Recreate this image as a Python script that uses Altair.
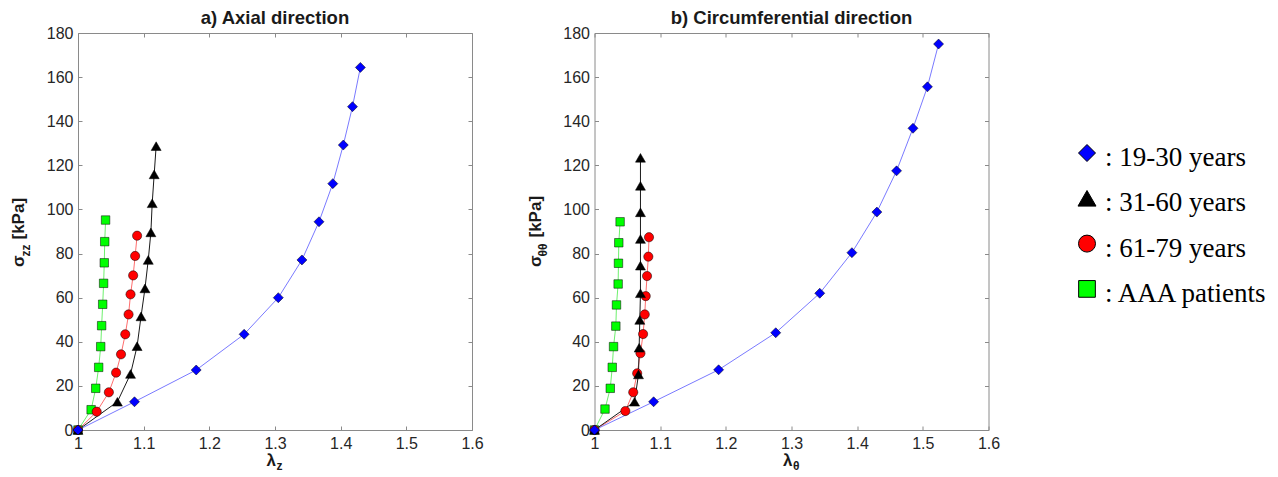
import altair as alt
import pandas as pd

# ---------------- data ----------------
series_names = ["19-30 years", "31-60 years", "61-79 years", "AAA patients"]
legend_labels = [": 19-30 years", ": 31-60 years", ": 61-79 years", ": AAA patients"]
draw_order = ["AAA patients", "61-79 years", "31-60 years", "19-30 years"]

x_ticks = [1.0, 1.1, 1.2, 1.3, 1.4, 1.5, 1.6]
y_ticks = [0, 20, 40, 60, 80, 100, 120, 140, 160, 180]

# a) Axial direction
young_z_lam = [1.0, 1.086, 1.180, 1.253, 1.305, 1.341, 1.367, 1.388, 1.404, 1.418, 1.430]
young_z_sig = [0, 12.8, 27.2, 43.4, 60.0, 77.1, 94.4, 111.7, 129.2, 146.6, 164.4]
middle_z_lam = [1.0, 1.060, 1.080, 1.090, 1.096, 1.102, 1.107, 1.111, 1.113, 1.116, 1.119]
middle_z_sig = [0, 12.8, 25.4, 38.0, 51.5, 64.2, 77.1, 89.6, 102.8, 115.9, 128.7]
old_z_lam = [1.0, 1.0285, 1.047, 1.058, 1.0655, 1.072, 1.077, 1.080, 1.084, 1.087, 1.090]
old_z_sig = [0, 8.3, 17.1, 26.0, 34.3, 43.4, 52.4, 61.5, 70.1, 78.9, 88.1]
aaa_z_lam = [1.0, 1.020, 1.027, 1.0315, 1.0346, 1.036, 1.0376, 1.039, 1.040, 1.0407, 1.042]
aaa_z_sig = [0, 9.2, 18.9, 28.4, 37.8, 47.3, 57.0, 66.5, 75.8, 85.4, 95.2]

# b) Circumferential direction
young_t_lam = [1.0, 1.090, 1.189, 1.276, 1.343, 1.392, 1.430, 1.460, 1.485, 1.507, 1.524]
young_t_sig = [0, 12.8, 27.3, 44.1, 62.0, 80.4, 98.8, 117.5, 136.8, 155.6, 175.0]
middle_t_lam = [1.0, 1.061, 1.067, 1.068, 1.069, 1.070, 1.070, 1.070, 1.070, 1.070, 1.070]
middle_t_sig = [0, 12.8, 25.2, 37.3, 49.9, 62.0, 74.5, 86.6, 98.7, 110.7, 123.4]
old_t_lam = [1.0, 1.047, 1.059, 1.065, 1.070, 1.074, 1.0765, 1.078, 1.080, 1.082, 1.083]
old_t_sig = [0, 8.6, 17.1, 25.7, 34.8, 43.5, 52.4, 60.7, 69.8, 78.6, 87.4]
aaa_t_lam = [1.0, 1.016, 1.024, 1.027, 1.029, 1.0325, 1.0335, 1.036, 1.0365, 1.037, 1.039]
aaa_t_sig = [0, 9.5, 18.9, 28.4, 37.8, 47.1, 56.7, 66.2, 75.6, 84.9, 94.4]

# ---------------- styles ----------------
SANS = "Liberation Sans"
SERIF = "Liberation Serif"
marker_shapes = {"19-30 years": "diamond", "31-60 years": "triangle-up",
                 "61-79 years": "circle", "AAA patients": "square"}
marker_fills = {"19-30 years": "#0000ff", "31-60 years": "#000000",
                "61-79 years": "#ff0000", "AAA patients": "#00ff00"}
marker_sizes = {"19-30 years": 100, "31-60 years": 100,
                "61-79 years": 85, "AAA patients": 72}
legend_sizes = {"19-30 years": 289, "31-60 years": 324,
                "61-79 years": 289, "AAA patients": 279}
line_colors = ["#7a7aff", "#1a1a1a", "#ff6e6e", "#6ef06e"]

W, H = 394, 397
GRAY = "#8a8a8a"
LABEL = "#262626"


def long_df(lams, sigs):
    rows = []
    lookup = dict(zip(series_names, zip(lams, sigs)))
    for name in draw_order:
        lam, sig = lookup[name]
        for i, (l, s) in enumerate(zip(lam, sig)):
            rows.append({"series": name, "idx": i, "lam": l, "sig": s})
    return pd.DataFrame(rows)


ONE = pd.DataFrame({"a": [0]})


def txt(text, x, y, size, angle=0, align="left", bold=True, font=SANS):
    return alt.Chart(ONE).mark_text(
        text=text, font=font, fontSize=size, fontWeight="bold" if bold else "normal",
        angle=angle, align=align, baseline="alphabetic", color="#1a1a1a",
    ).encode(x=alt.value(x), y=alt.value(y))


def panel(df, title, ysub, xsub, sub_len):
    xs = alt.Scale(domain=[1.0, 1.6], nice=False, zero=False)
    ys = alt.Scale(domain=[0, 180], nice=False, zero=False)
    lab_axis_x = alt.Axis(orient="bottom", values=x_ticks, format="~g", ticks=False,
                          domain=False, grid=False, title=None, labelFont=SANS,
                          labelFontSize=16, labelColor=LABEL, labelPadding=5,
                          labelFlush=False, labelOverlap=False)
    lab_axis_y = alt.Axis(orient="left", values=y_ticks, ticks=False, domain=False,
                          grid=False, title=None, labelFont=SANS, labelFontSize=16,
                          labelColor=LABEL, labelPadding=5, labelFlush=False,
                          labelOverlap=False)

    def tick_axis(orient, off, vals):
        return alt.Axis(orient=orient, offset=off, values=vals, labels=False,
                        domain=False, grid=False, ticks=True, tickSize=4,
                        tickColor=GRAY, title=None)

    base = alt.Chart(df)
    lines = base.mark_line(strokeWidth=1).encode(
        x=alt.X("lam:Q", scale=xs, axis=lab_axis_x),
        y=alt.Y("sig:Q", scale=ys, axis=lab_axis_y),
        stroke=alt.Stroke("series:N", scale=alt.Scale(domain=series_names, range=line_colors),
                          legend=None),
        order="idx:Q",
    )
    layers = [lines]
    for k, name in enumerate(draw_order):
        if k == 0:
            ax_x = tick_axis("top", -H, x_ticks)
            ax_y = tick_axis("right", -W, y_ticks)
        elif k == 1:
            ax_x = tick_axis("bottom", -H, x_ticks)
            ax_y = tick_axis("left", -W, y_ticks)
        else:
            ax_x = None
            ax_y = None
        pts = base.transform_filter(alt.datum.series == name).mark_point(
            shape=marker_shapes[name], size=marker_sizes[name], filled=True,
            fill=marker_fills[name], stroke="#000000", strokeWidth=0.5, opacity=1,
        ).encode(
            x=alt.X("lam:Q", scale=xs, axis=ax_x),
            y=alt.Y("sig:Q", scale=ys, axis=ax_y),
        )
        layers.append(pts)

    # axis titles with subscripts
    bx = -54
    y0 = 234
    layers.append(txt("σ", bx, y0, 17, angle=270))
    layers.append(txt(ysub, bx + 6, y0 - 10.5, 12, angle=270))
    layers.append(txt("[kPa]", bx, y0 - 10.5 - sub_len - 5, 17, angle=270))
    layers.append(txt("λ", W / 2 + 1, 433, 17, align="right"))
    layers.append(txt(xsub, W / 2 + 1.5, 437, 12))

    return alt.layer(*layers).resolve_axis(x="independent", y="independent").properties(
        width=W, height=H,
        title=alt.TitleParams(title, font=SANS, fontSize=18.5, fontWeight="bold",
                              color="#1a1a1a", anchor="middle", frame="group", offset=-2),
    )


left = panel(long_df([young_z_lam, middle_z_lam, old_z_lam, aaa_z_lam],
                     [young_z_sig, middle_z_sig, old_z_sig, aaa_z_sig]),
             "a) Axial direction", "zz", "z", 12)
right = panel(long_df([young_t_lam, middle_t_lam, old_t_lam, aaa_t_lam],
                      [young_t_sig, middle_t_sig, old_t_sig, aaa_t_sig]),
              "b) Circumferential direction", "θθ", "θ", 14)

# ---------------- legend panel ----------------
LEG_H = 430
leg_df = pd.DataFrame({"series": series_names, "label": legend_labels,
                       "pos": list(range(len(series_names)))})
ys_leg = alt.Scale(domain=[-120 / 45.3, (LEG_H - 120) / 45.3], reverse=True,
                   nice=False, zero=False)
leg_layers = []
for name in series_names:
    leg_layers.append(
        alt.Chart(leg_df).transform_filter(alt.datum.series == name).mark_point(
            shape=marker_shapes[name], size=legend_sizes[name], filled=True,
            fill=marker_fills[name], stroke="#000000", strokeWidth=1, opacity=1,
        ).encode(x=alt.value(44), y=alt.Y("pos:Q", scale=ys_leg, axis=None))
    )
leg_layers.append(
    alt.Chart(leg_df).mark_text(align="left", baseline="middle", font=SERIF,
                                fontSize=27, dy=5, color="#000000").encode(
        x=alt.value(62), y=alt.Y("pos:Q", scale=ys_leg, axis=None), text="label:N")
)
legend = alt.layer(*leg_layers).properties(
    width=215, height=LEG_H, view=alt.ViewBackground(stroke="transparent"))

chart = alt.hconcat(left, right, legend, spacing=41.5).properties(
    padding={"left": 1, "top": 0, "right": 0, "bottom": 0},
    background="white",
).configure_view(stroke=GRAY, strokeWidth=1)

chart.save("out.html", embed_options={"renderer": "svg", "actions": False})
